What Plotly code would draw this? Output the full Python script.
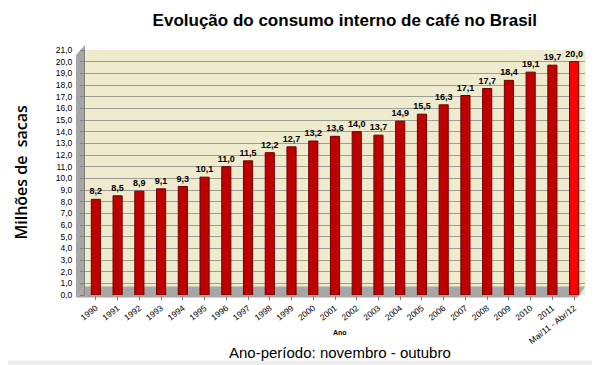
import plotly.graph_objects as go

categories = ["1990", "1991", "1992", "1993", "1994", "1995", "1996", "1997", "1998", "1999",
              "2000", "2001", "2002", "2003", "2004", "2005", "2006", "2007", "2008", "2009",
              "2010", "2011", "Mai/11 - Abr/12"]
values = [8.2, 8.5, 8.9, 9.1, 9.3, 10.1, 11.0, 11.5, 12.2, 12.7,
          13.2, 13.6, 14.0, 13.7, 14.9, 15.5, 16.3, 17.1, 17.7, 18.4,
          19.1, 19.7, 20.0]
y_ticks = [i for i in range(0, 22)]

labels = [f"{v:.1f}".replace(".", ",") for v in values]
colors = ["#C00000"] * (len(values) - 1) + ["#FF0000"]
xs = list(range(len(categories)))

fig = go.Figure()
fig.add_trace(go.Bar(
    x=xs, y=values, width=0.42,
    marker=dict(color=colors, line=dict(color="#6E0000", width=1)),
    text=labels, textposition="outside", cliponaxis=False, constraintext="none",
    textfont=dict(family="Liberation Sans, Arial", size=9, color="#000000", weight="bold"),
    hoverinfo="skip",
))

fig.update_layout(
    width=592, height=357,
    margin=dict(l=77, r=15, t=42, b=70),
    paper_bgcolor="#FFFFFF",
    plot_bgcolor="#EEEBCF",
    separators=",.",
    showlegend=False,
    bargap=0.5,
    title=dict(text="<b>Evolução do consumo interno de café no Brasil</b>",
               x=0.569, xanchor="center", y=0.966, yanchor="middle",
               font=dict(family="Liberation Sans, Arial", size=17, color="#000000")),
    xaxis=dict(
        range=[-0.5, len(categories) - 0.5],
        tickvals=xs, ticktext=categories, tickangle=-38,
        tickfont=dict(family="Liberation Sans, Arial", size=8.5, color="#000000"),
        showgrid=False, zeroline=False, showline=False,
        ticks="outside", ticklen=4, tickcolor="#808080",
    ),
    yaxis=dict(
        range=[0, 21], tickvals=y_ticks, tickformat=".1f",
        tickfont=dict(family="Liberation Sans, Arial", size=8.5, color="#000000"),
        ticklabelstandoff=6,
        showgrid=True, gridcolor="#9C9C94", gridwidth=1,
        zeroline=False, showline=True, linecolor="#808080",
        ticks="outside", ticklen=4, tickcolor="#808080",
    ),
    shapes=[
        dict(type="path", xref="paper", yref="paper",
             path="M -0.018 -0.01 L 0 0.035 L 0 1.02 L -0.018 0.98 Z",
             fillcolor="#A6A6A6", line=dict(width=0), layer="below"),
        dict(type="path", xref="paper", yref="paper",
             path="M -0.018 -0.01 L 0.985 -0.01 L 1.0 0.035 L 0 0.035 Z",
             fillcolor="#A6A6A6", line=dict(width=0), layer="below"),
        dict(type="rect", xref="paper", yref="paper",
             x0=-0.2, x1=1.05, y0=-0.29, y1=-0.268,
             fillcolor="#EDEDED", line=dict(width=0), layer="below"),
    ],
    annotations=[
        dict(text="Milhões de  sacas", xref="paper", yref="paper",
             x=-0.13, y=0.5, xanchor="center", yanchor="middle", textangle=-90,
             showarrow=False,
             font=dict(family="Open Sans, Liberation Sans", size=16, color="#000000", weight=600)),
        dict(text="<b>Ano</b>", xref="paper", yref="paper",
             x=0.51, y=-0.155, xanchor="center", yanchor="middle", showarrow=False,
             font=dict(family="Liberation Sans, Arial", size=7, color="#000000")),
        dict(text="Ano-período: novembro - outubro", xref="paper", yref="paper",
             x=0.51, y=-0.233, xanchor="center", yanchor="middle", showarrow=False,
             font=dict(family="Liberation Sans, Arial", size=15, color="#000000")),
    ],
)

fig.write_html("out.html")
